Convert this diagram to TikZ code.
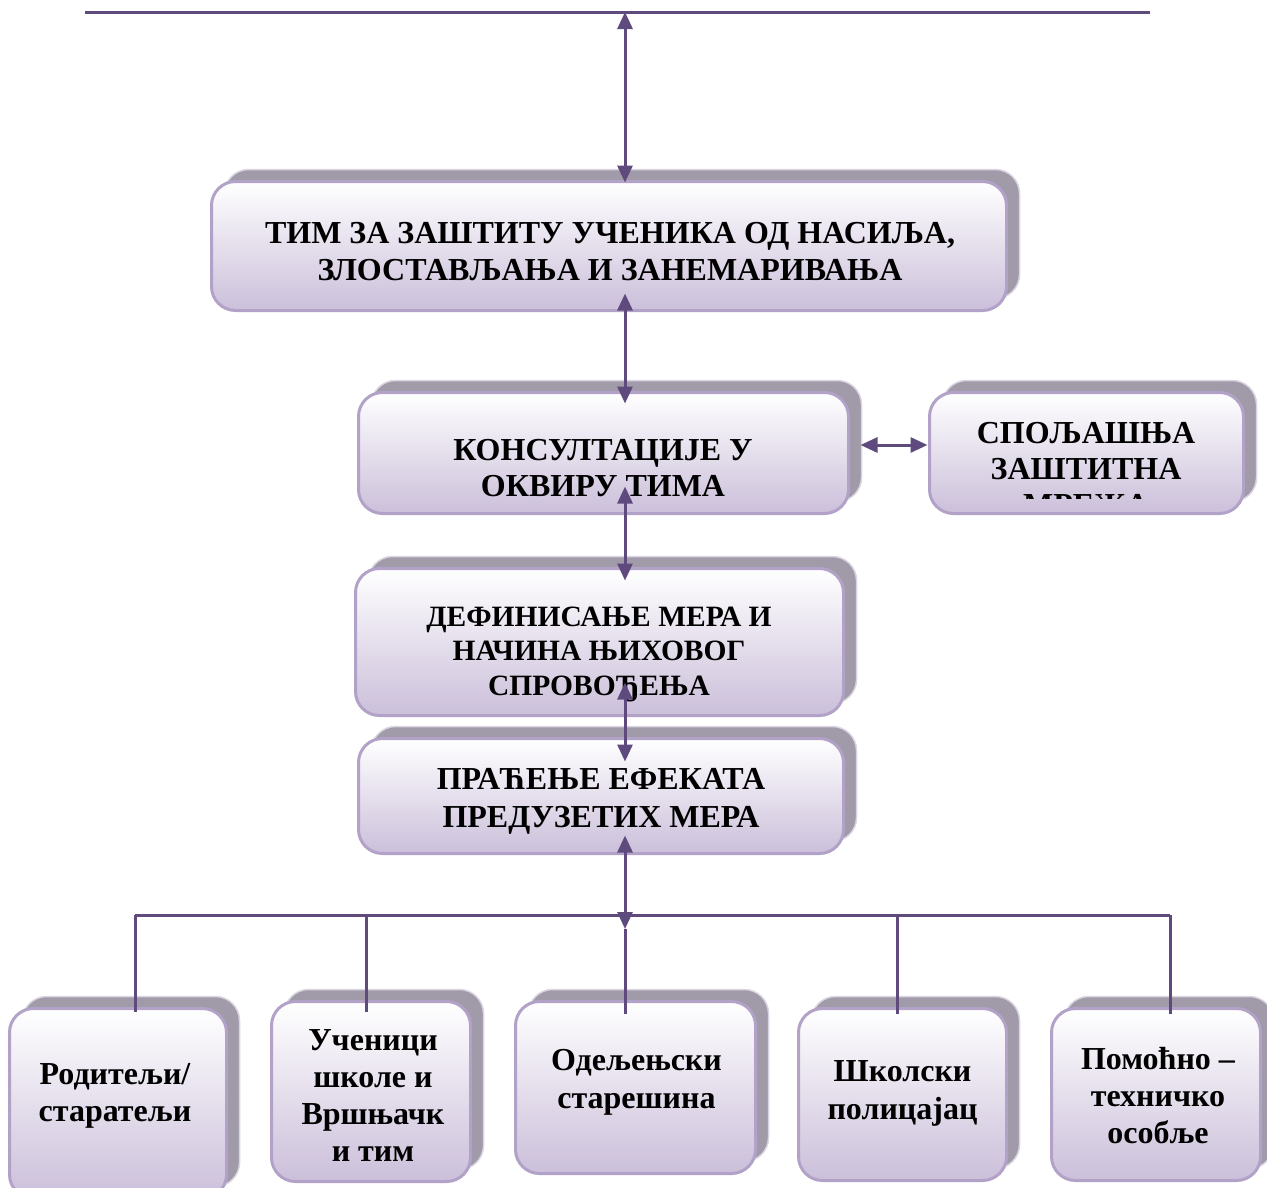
\documentclass[tikz,border=0pt]{standalone}
\usepackage{fontspec}
\setmainfont{Liberation Serif}
\usetikzlibrary{arrows.meta,shadows,calc}
\definecolor{linec}{HTML}{5F4A7E}
\definecolor{boxborder}{HTML}{B3A2C8}
\definecolor{boxbot}{HTML}{CBBFDA}
\definecolor{shadowc}{HTML}{A09AA9}
\definecolor{shadowb}{HTML}{DAD5E0}
\tikzset{
  box/.style={draw=boxborder, line width=3pt, rounded corners=24pt,
    top color=white, bottom color=boxbot, inner sep=0pt, outer sep=0pt,
    general shadow={fill=shadowc, draw=shadowb, line width=1.5pt,
      shadow xshift=13pt, shadow yshift=12pt}},
  txt/.style={align=center, font=\fontsize{32}{37}\selectfont\bfseries, inner sep=0pt},
  conn/.style={draw=linec, line width=3pt},
  tip/.style={arrows={Triangle[length=17pt 0,width=15pt 0]-Triangle[length=17pt 0,width=15pt 0]}},
}
\begin{document}
\begin{tikzpicture}[x=1pt,y=-1pt]
\useasboundingbox (0,0) rectangle (1267,1187);
\clip (0,0) rectangle (1267,1187);
% boxes
\node[box, minimum width=795pt, minimum height=129pt] (tim) at (609,246) {};
\node[box, minimum width=490pt, minimum height=121pt] (kons) at (603.5,453) {};
\node[box, minimum width=314pt, minimum height=121pt] (spol) at (1086.5,453) {};
\node[box, minimum width=488pt, minimum height=147pt] (def) at (599.5,642) {};
\node[box, minimum width=485pt, minimum height=115pt] (prac) at (601,796) {};
\node[box, minimum width=217pt, minimum height=190pt] (rod) at (118,1103.5) {};
\node[box, minimum width=199pt, minimum height=180pt] (uc) at (371,1091.5) {};
\node[box, minimum width=240pt, minimum height=172pt] (od) at (635.5,1087.5) {};
\node[box, minimum width=208pt, minimum height=172pt] (sk) at (902.5,1094.5) {};
\node[box, minimum width=209pt, minimum height=172pt] (pom) at (1156,1094.5) {};
% texts
\node[txt] (timt) at (610,251.5) {ТИМ ЗА ЗАШТИТУ УЧЕНИКА ОД НАСИЉА,\\ЗЛОСТАВЉАЊА И ЗАНЕМАРИВАЊА};
\node[txt, font=\fontsize{32}{36}\selectfont\bfseries] (konst) at (603,468) {КОНСУЛТАЦИЈЕ У\\ОКВИРУ ТИМА};
\begin{scope}
\clip (928,380) rectangle (1250,498);
\node[txt, font=\fontsize{32}{36}\selectfont\bfseries] (spolt) at (1086,469) {СПОЉАШЊА\\ЗАШТИТНА\\МРЕЖА};
\end{scope}
\node[txt, font=\fontsize{29.5}{34.5}\selectfont\bfseries] (deft) at (599,654) {ДЕФИНИСАЊЕ МЕРА И\\НАЧИНА ЊИХОВОГ\\СПРОВОЂЕЊА};
\node[txt, font=\fontsize{32}{38}\selectfont\bfseries] (pract) at (601,801) {ПРАЋЕЊЕ ЕФЕКАТА\\ПРЕДУЗЕТИХ МЕРА};
\node[txt] (rodt) at (115,1095.5) {Родитељи/\\старатељи};
\node[txt] (uct) at (373,1096) {Ученици\\школе и\\Вршњачк\\и тим};
\node[txt, font=\fontsize{32}{38}\selectfont\bfseries] (odt) at (636.5,1082) {Одељењски\\старешина};
\node[txt, font=\fontsize{32}{38}\selectfont\bfseries] (skt) at (902.5,1093) {Школски\\полицајац};
\node[txt] (pomt) at (1158,1096) {Помоћно –\\техничко\\особље};
% connectors
\coordinate (tl) at (85,12);
\coordinate (tr) at (1150,12);
\coordinate (tm) at (625,12);
\coordinate (ax) at (625,0);
\draw[conn] (tl) -- (tr);
\draw[conn, tip, shorten >=-1pt] (tm) -- (ax |- tim.north);
\draw[conn, tip, shorten <=-17pt, shorten >=-11pt] (ax |- tim.south) -- (ax |- kons.north);
\draw[conn, tip, shorten <=-27pt, shorten >=-12pt] (ax |- kons.south) -- (ax |- def.north);
\draw[conn, tip, shorten <=-33pt, shorten >=-23pt] (ax |- def.south) -- (ax |- prac.north);
\draw[conn, tip] ([yshift=8pt,xshift=12pt]kons.east) -- ([yshift=8pt,xshift=-2pt]spol.west);
% bus
\coordinate (bl) at (135,915);
\coordinate (br) at (1170,915);
\coordinate (bm) at (625,929);
\coordinate (b2) at (366,915);
\coordinate (b4) at (897,915);
\draw[conn] (bl) -- (br);
\draw[conn, tip, shorten <=-18pt] (ax |- prac.south) -- (bm);
\draw[conn] (bm) -- ([yshift=-12pt]ax |- od.north);
\draw[conn] (bl) -- ([yshift=-3pt]bl |- rod.north);
\draw[conn] (b2) -- ([yshift=-10pt]b2 |- uc.north);
\draw[conn] (b4) -- ([yshift=-5pt]b4 |- sk.north);
\draw[conn] (br) -- ([yshift=-5pt]br |- pom.north);
\end{tikzpicture}
\end{document}
